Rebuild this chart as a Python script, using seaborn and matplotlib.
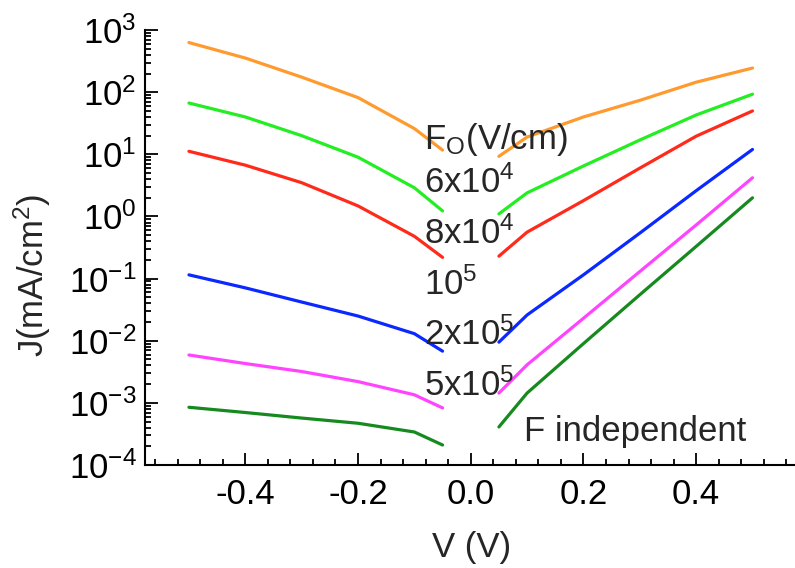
import numpy as np
import pandas as pd
import matplotlib
matplotlib.use("Agg")
import matplotlib.pyplot as plt
import matplotlib.ticker as mticker
import seaborn as sns

# bias points of the two branches
v_neg = [-0.5, -0.4, -0.3, -0.2, -0.1, -0.05]
v_pos = [0.05, 0.1, 0.2, 0.3, 0.4, 0.5]

# current density (mA/cm^2), one list per field
j_6e4_neg = [630, 355, 175, 82, 26, 11.7]
j_6e4_pos = [9.3, 19, 40, 74, 145, 245]
j_8e4_neg = [67, 40, 20, 9, 2.9, 1.23]
j_8e4_pos = [1.1, 2.4, 6.5, 17, 43, 93]
j_1e5_neg = [11.2, 6.7, 3.5, 1.48, 0.48, 0.22]
j_1e5_pos = [0.23, 0.56, 1.8, 6.0, 19.6, 50]
j_2e5_neg = [0.115, 0.071, 0.042, 0.025, 0.013, 0.0068]
j_2e5_pos = [0.0095, 0.026, 0.115, 0.54, 2.6, 12]
j_5e5_neg = [0.0059, 0.0043, 0.0032, 0.0022, 0.00135, 0.00083]
j_5e5_pos = [0.00144, 0.0041, 0.023, 0.13, 0.73, 4.2]
j_find_neg = [0.00085, 0.0007, 0.00057, 0.00047, 0.00034, 0.00021]
j_find_pos = [0.00041, 0.00144, 0.009, 0.055, 0.33, 2.0]

series = ["6x10^4", "8x10^4", "10^5", "2x10^5", "5x10^5", "F indep"]
neg_data = [j_6e4_neg, j_8e4_neg, j_1e5_neg, j_2e5_neg, j_5e5_neg, j_find_neg]
pos_data = [j_6e4_pos, j_8e4_pos, j_1e5_pos, j_2e5_pos, j_5e5_pos, j_find_pos]
colors = ["#FF9A2E", "#22EE22", "#FF2A1A", "#0A28FF", "#FF44FF", "#168A1E"]

# long-form table: each series has two separate branches
rows = []
for name, jn, jp in zip(series, neg_data, pos_data):
    for v, j in zip(v_neg, jn):
        rows.append((name, "neg", v, j))
    for v, j in zip(v_pos, jp):
        rows.append((name, "pos", v, j))
df = pd.DataFrame(rows, columns=["series", "branch", "V", "J"])

sns.set_style("ticks")
plt.rcParams["font.family"] = ["Liberation Sans", "DejaVu Sans"]
plt.rcParams["mathtext.fontset"] = "custom"
plt.rcParams["mathtext.rm"] = "Liberation Sans"
plt.rcParams["mathtext.it"] = "Liberation Sans:italic"

fig = plt.figure(figsize=(7.95, 5.68), dpi=100)
ax = fig.add_axes([0.1824, 0.1813, 0.8166, 0.7657])

sns.lineplot(data=df, x="V", y="J", hue="series", units="branch",
             estimator=None, palette=dict(zip(series, colors)),
             linewidth=2.3, legend=False, ax=ax)

ax.set_yscale("log")
ax.set_ylim(1e-4, 1e3)
ax.set_xlim(-0.578, 0.574)

ax.xaxis.set_major_locator(mticker.MultipleLocator(0.2))
ax.xaxis.set_minor_locator(mticker.MultipleLocator(0.04))
ax.xaxis.set_major_formatter(mticker.FormatStrFormatter("%.1f"))
ax.yaxis.set_major_locator(mticker.LogLocator(base=10, numticks=20))
ax.yaxis.set_minor_locator(mticker.LogLocator(base=10, subs=np.arange(2, 10), numticks=20))
ax.yaxis.set_minor_formatter(mticker.NullFormatter())

ax.tick_params(which="both", direction="in", width=1.3, labelsize=25, colors="black")
ax.tick_params(which="major", length=9)
ax.tick_params(which="minor", length=4.5)
ax.tick_params(axis="x", which="major", pad=9)
ax.tick_params(axis="y", which="major", pad=6)
for s in ["top", "right"]:
    ax.spines[s].set_visible(False)
for s in ["left", "bottom"]:
    ax.spines[s].set_linewidth(1.5)
    ax.spines[s].set_color("black")

ax.set_xlabel("V (V)", fontsize=25)
ax.set_ylabel("J(mA/cm$^2$)", fontsize=25)
ax.xaxis.set_label_coords(0.503, -0.152)
ax.yaxis.set_label_coords(-0.142, 0.437)

# field labels placed beside the curves
txt = dict(fontsize=25, ha="left", va="baseline", transform=ax.transData)
ax.text(-0.083, 12, "F$_{\\rm O}$(V/cm)", **txt)
ax.text(-0.083, 2.4, "6x10$^4$", **txt)
ax.text(-0.083, 0.37, "8x10$^4$", **txt)
ax.text(-0.083, 0.055, "10$^5$", **txt)
ax.text(-0.083, 0.0085, "2x10$^5$", **txt)
ax.text(-0.083, 0.0013, "5x10$^5$", **txt)
ax.text(0.095, 0.00024, "F independent", **txt)

fig.savefig("out.png", dpi=100)
